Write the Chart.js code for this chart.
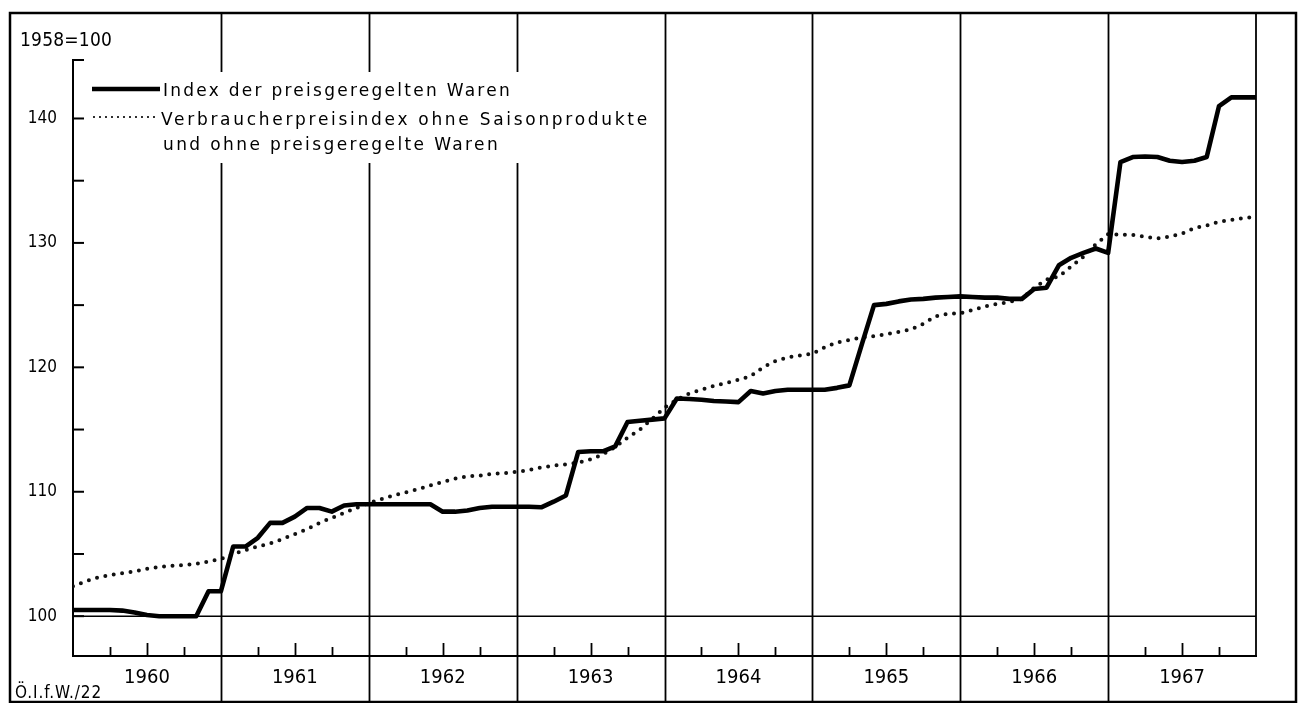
<!DOCTYPE html>
<html><head><meta charset="utf-8">
<script src="https://cdn.jsdelivr.net/npm/chart.js@4.4.1/dist/chart.umd.min.js"></script>
<style>html,body{margin:0;padding:0;background:#fff;overflow:hidden}#wrap{width:1300px;height:703px;position:relative}</style>
</head><body><div id="wrap"><canvas id="c" width="1300" height="703"></canvas></div>
<script>
// ---- data (monthly, Jan 1960 .. Jan 1968 = index 0..96) ----
const yearLabels = ['1960','1961','1962','1963','1964','1965','1966','1967'];
const yTickLabels = [100,110,120,130,140];
const yMinorTicks = [100,105,110,115,120,125,130,135,140];
const baseLabel = '1958=100';
const sourceLabel = 'Ö.I.f.W./22';
const legendLabels = ['Index der preisgeregelten Waren','Verbraucherpreisindex ohne Saisonprodukte','und ohne preisgeregelte Waren'];

const preisgeregelt = [
 100.5,100.5,100.5,100.5,100.45,100.3,100.1,100.0,100.0,100.0,100.0,102.0,
 102.0,105.6,105.6,106.3,107.5,107.5,108.0,108.7,108.7,108.4,108.9,109.0,
 109.0,109.0,109.0,109.0,109.0,109.0,108.4,108.4,108.5,108.7,108.8,108.8,
 108.8,108.8,108.75,109.2,109.7,113.2,113.25,113.25,113.65,115.6,115.7,115.8,
 115.9,117.5,117.45,117.4,117.3,117.25,117.2,118.1,117.9,118.1,118.2,118.2,
 118.2,118.2,118.35,118.55,121.8,125.0,125.1,125.3,125.45,125.5,125.6,125.65,
 125.7,125.65,125.6,125.6,125.5,125.5,126.3,126.4,128.2,128.8,129.2,129.55,
 129.2,136.5,136.9,136.95,136.9,136.6,136.5,136.6,136.9,141.0,141.7,141.7,
 141.7
];
const vpiOhne = [
 102.4,102.8,103.1,103.3,103.45,103.6,103.8,103.95,104.05,104.1,104.2,104.4,
 104.6,105.0,105.3,105.6,105.85,106.2,106.6,107.0,107.5,107.9,108.3,108.7,
 109.1,109.4,109.7,109.95,110.2,110.5,110.8,111.05,111.25,111.3,111.45,111.5,
 111.6,111.75,111.95,112.1,112.2,112.35,112.6,113.0,113.6,114.35,115.0,115.85,
 116.75,117.4,117.9,118.2,118.5,118.75,119.0,119.3,120.0,120.5,120.8,120.95,
 121.1,121.6,122.0,122.2,122.4,122.5,122.65,122.85,123.05,123.5,124.1,124.3,
 124.35,124.6,124.9,125.1,125.25,125.5,126.4,127.05,127.3,128.1,128.9,129.9,
 130.7,130.65,130.65,130.5,130.35,130.5,130.75,131.2,131.4,131.7,131.85,132.0,
 132.1
];

const FONT = "'DejaVu Sans Condensed','Liberation Sans Narrow',sans-serif";
const LFONT = "'DejaVu Sans','Noto Sans',sans-serif";

function fitText(ctx, text, x, y, target){
  ctx.letterSpacing = '0px';
  const w = ctx.measureText(text).width;
  const ls = (target - w) / text.length;
  ctx.letterSpacing = ls.toFixed(2) + 'px';
  ctx.fillText(text, x, y);
  ctx.letterSpacing = '0px';
  return x + target;
}

const decor = {
  id: 'decor',
  afterDraw(chart){
    const ctx = chart.ctx, xs = chart.scales.x, ys = chart.scales.y, ca = chart.chartArea;
    ctx.save();
    ctx.strokeStyle = '#000'; ctx.fillStyle = '#000'; ctx.lineCap = 'butt';
    // outer frame
    ctx.lineWidth = 2.5;
    ctx.strokeRect(10, 13, 1286, 689);
    // year boundary lines
    ctx.lineWidth = 1.8;
    for (let i = 1; i < yearLabels.length; i++){
      const px = Math.round(xs.getPixelForValue(i*12)) + 0.5;
      ctx.beginPath(); ctx.moveTo(px, 13); ctx.lineTo(px, 703); ctx.stroke();
    }
    const pr = Math.round(xs.getPixelForValue(yearLabels.length*12));
    ctx.beginPath(); ctx.moveTo(pr, 13); ctx.lineTo(pr, ca.bottom); ctx.stroke();
    // 100 line
    ctx.lineWidth = 1.5;
    const p100 = ys.getPixelForValue(100);
    ctx.beginPath(); ctx.moveTo(ca.left, p100); ctx.lineTo(ca.right, p100); ctx.stroke();
    // y ticks (inside)
    ctx.lineWidth = 2;
    const yt = yMinorTicks.concat([ys.max]);
    yt.forEach(v => {
      const py = ys.getPixelForValue(v);
      ctx.beginPath(); ctx.moveTo(ca.left, py); ctx.lineTo(ca.left + 11, py); ctx.stroke();
    });
    // x quarter ticks
    ctx.lineWidth = 1.8;
    for (let yr = 0; yr < yearLabels.length; yr++){
      [3,6,9].forEach(q => {
        const px = Math.round(xs.getPixelForValue(yr*12+q)) + 0.5;
        const len = q === 6 ? 13 : 9;
        ctx.beginPath(); ctx.moveTo(px, ca.bottom); ctx.lineTo(px, ca.bottom - len); ctx.stroke();
      });
    }
    // base label
    ctx.font = '19px ' + FONT; ctx.textBaseline = 'alphabetic'; ctx.textAlign = 'left';
    fitText(ctx, baseLabel, 20, 46, 92);
    // source label
    ctx.font = '17px ' + FONT;
    fitText(ctx, sourceLabel, 15, 698, 87);
    // legend
    ctx.fillStyle = '#fff';
    ctx.fillRect(88, 72, 568, 91);
    ctx.fillStyle = '#000';
    ctx.lineWidth = 4.5; ctx.setLineDash([]);
    ctx.beginPath(); ctx.moveTo(92, 89); ctx.lineTo(160, 89); ctx.stroke();
    ctx.lineWidth = 2.2; ctx.lineCap = 'round'; ctx.setLineDash([0, 6]);
    ctx.beginPath(); ctx.moveTo(94, 117); ctx.lineTo(158, 117); ctx.stroke();
    ctx.setLineDash([]); ctx.lineCap = 'butt';
    ctx.font = '17px ' + LFONT;
    fitText(ctx, legendLabels[0], 163, 96, 349);
    fitText(ctx, legendLabels[1], 161, 125, 489);
    fitText(ctx, legendLabels[2], 163, 150, 337);
    ctx.restore();
  }
};

new Chart(document.getElementById('c'), {
  type: 'line',
  data: { datasets: [
    { label: legendLabels[0], data: preisgeregelt.map((v,i)=>({x:i,y:v})),
      borderColor:'#000', borderWidth:4.6, pointRadius:0, tension:0,
      borderJoinStyle:'round', borderCapStyle:'butt' },
    { label: legendLabels[1] + ' ' + legendLabels[2], data: vpiOhne.map((v,i)=>({x:i,y:v})),
      borderColor:'#111', borderWidth:4, borderDash:[0,8.5], borderCapStyle:'round',
      pointRadius:0, tension:0 }
  ]},
  options: {
    responsive:false, animation:false, devicePixelRatio:1,
    layout:{ padding:{ top:60, right:44, left:0, bottom:0 } },
    plugins:{ legend:{display:false}, tooltip:{enabled:false}, title:{display:false} },
    scales:{
      x:{ type:'linear', min:0, max:96,
        afterBuildTicks: s => { s.ticks = yearLabels.map((_,i)=>({value:i*12+6})); },
        afterFit: s => { s.height = 47; },
        ticks:{ callback: v => yearLabels[Math.round((v-6)/12)], font:{family:FONT, size:20}, color:'#000', padding:10, maxRotation:0, autoSkip:false },
        grid:{ drawOnChartArea:false, drawTicks:false },
        border:{ display:true, color:'#000', width:2 } },
      y:{ min:96.8, max:144.7,
        afterBuildTicks: s => { s.ticks = yTickLabels.map(v=>({value:v})); },
        afterFit: s => { s.width = 73; },
        ticks:{ font:{family:FONT, size:17}, color:'#000', padding:16 },
        grid:{ drawOnChartArea:false, drawTicks:false },
        border:{ display:true, color:'#000', width:2 } }
    }
  },
  plugins:[decor]
});
</script></body></html>
